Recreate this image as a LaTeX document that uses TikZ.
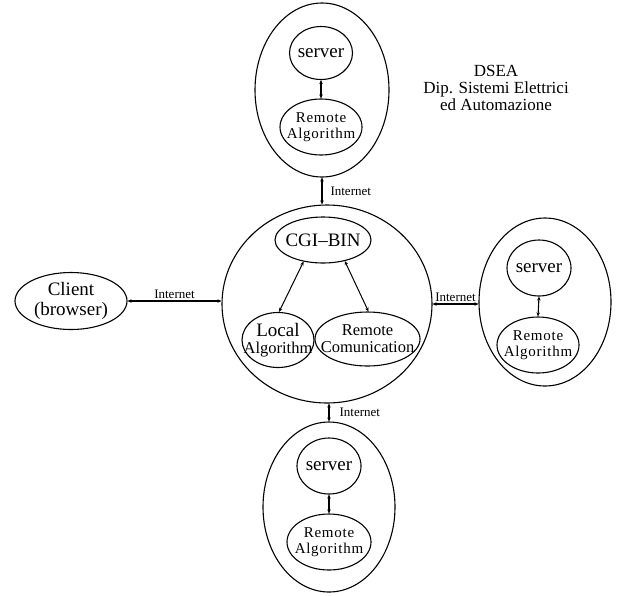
\documentclass[tikz,border=0pt]{standalone}
\usepackage{fontspec}
\setmainfont{Liberation Serif}
\usetikzlibrary{shapes.geometric,arrows.meta}
\begin{document}
\begin{tikzpicture}[x=1pt,y=-1pt,
  oval/.style={ellipse,draw,line width=1.1pt,inner sep=0pt},
  big/.style={font=\fontsize{19}{20}\selectfont},
  mid/.style={font=\fontsize{16.5}{17}\selectfont},
  ralg/.style={font=\fontsize{15}{16.5}\selectfont\addfontfeature{LetterSpace=5}},
  small/.style={font=\fontsize{13}{14}\selectfont},
  link/.style={line width=1.1pt,{Stealth[length=4pt,width=3.5pt]}-{Stealth[length=4pt,width=3.5pt]}},
  ilink/.style={line width=1pt,{Stealth[length=4pt,width=3.5pt]}-{Stealth[length=4pt,width=3.5pt]}}
]
\useasboundingbox (0,0) rectangle (617,595);
% central
\node[oval,minimum width=210pt,minimum height=198pt] (cen) at (327,304) {};
\node[oval,minimum width=96pt,minimum height=46pt,label={[big,inner sep=0pt]center:CGI–BIN}] (cgi) at (323,240) {};
\node[oval,minimum width=72pt,minimum height=55pt,label={[mid,inner sep=0pt,align=center]center:{\fontsize{19}{17}\selectfont Local}\\Algorithm}] (loc) at (278,340) {};
\node[oval,minimum width=105pt,minimum height=54pt,label={[mid,inner sep=0pt,align=center]center:Remote\\Comunication}] (rc) at (367.5,339) {};
\draw[ilink] (cgi.228) -- (loc.88);
\draw[ilink] (cgi.316) -- (rc.88);
% client
\node[oval,minimum width=112pt,minimum height=57pt,label={[big,inner sep=0pt,align=center]center:Client\\(browser)}] (cl) at (71,301) {};
% top group
\node[oval,minimum width=134pt,minimum height=174pt] (top) at (322,90) {};
\node[oval,minimum width=63pt,minimum height=53pt,label={[big,inner sep=0pt]center:server}] (tsrv) at (321,53) {};
\node[oval,minimum width=82pt,minimum height=56pt,label={[ralg,inner sep=0pt,align=center]center:Remote\\Algorithm}] (tra) at (321,127) {};
\draw[link] (tsrv.south) -- (tra.north);
% right group
\node[oval,minimum width=132pt,minimum height=168pt] (rg) at (545,302) {};
\node[oval,minimum width=64pt,minimum height=56pt,label={[big,inner sep=0pt]center:server}] (rsrv) at (539,268) {};
\node[oval,minimum width=82pt,minimum height=56pt,label={[ralg,inner sep=0pt,align=center]center:Remote\\Algorithm}] (rra) at (538,345) {};
\draw[link] (rsrv.south) -- (rra.north);
% bottom group
\node[oval,minimum width=132pt,minimum height=170pt] (bot) at (329,507) {};
\node[oval,minimum width=64pt,minimum height=56pt,label={[big,inner sep=0pt]center:server}] (bsrv) at (329,466) {};
\node[oval,minimum width=84pt,minimum height=56pt,label={[ralg,inner sep=0pt,align=center]center:Remote\\Algorithm}] (bra) at (329,542) {};
\draw[link] (bsrv.south) -- (bra.north);
% internet links
\draw[link] (cl.east) -- node[small,above,inner sep=2pt] {Internet} (cl.east -| cen.west);
\draw[link] (top.south) -- node[small,right,inner sep=8pt] {Internet} (top.south |- cen.north);
\draw[link] (cen.east) -- node[small,above,inner sep=2pt] {Internet} (cen.east -| rg.west);
\draw[link] (bot.north) -- node[small,right,inner sep=10pt] {Internet} (bot.north |- cen.south);
% title
\node[font=\fontsize{17}{17}\selectfont,align=center] (dsea) at (496,88) {DSEA\\Dip. Sistemi Elettrici\\ed Automazione};
\end{tikzpicture}
\end{document}
